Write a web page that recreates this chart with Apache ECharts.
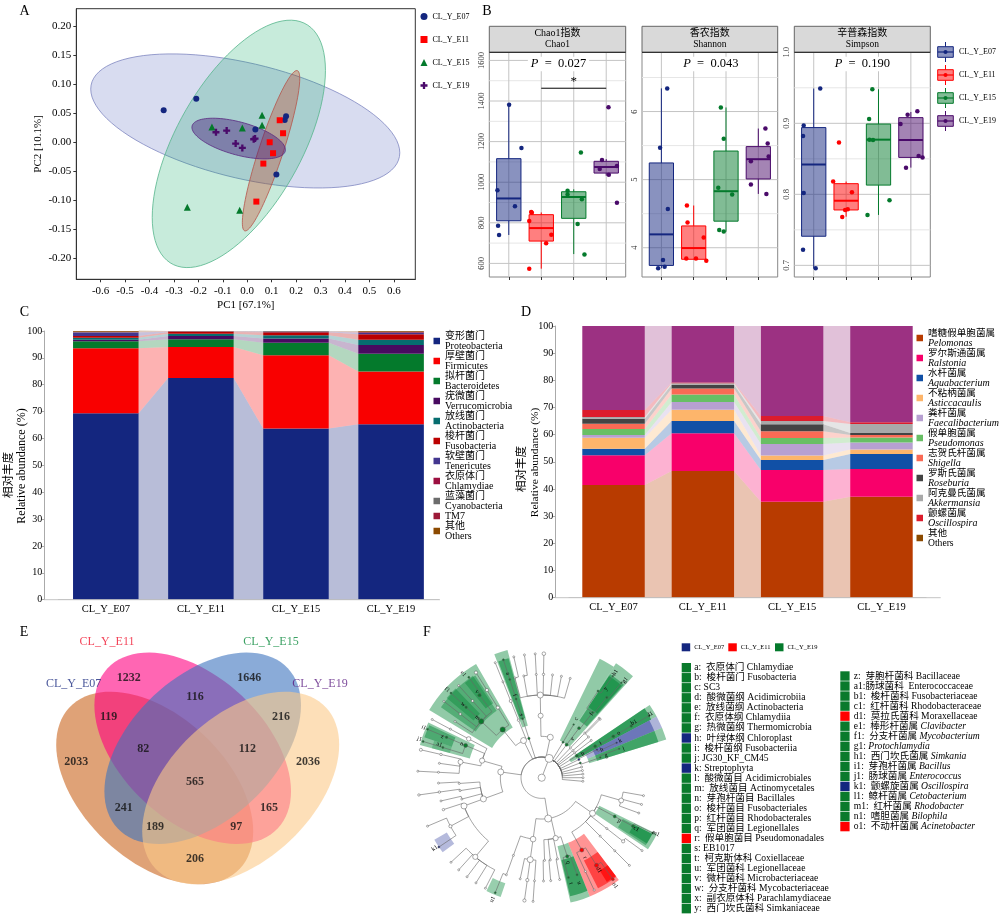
<!DOCTYPE html>
<html><head><meta charset="utf-8">
<style>html,body{margin:0;padding:0;background:#fff}#c{width:1000px;height:920px}</style>
<script src="https://cdn.jsdelivr.net/npm/echarts@6/dist/echarts.min.js"></script></head>
<body><div id="c"></div>
<script>
const F='"Liberation Serif","Noto Sans CJK SC",serif';
const groups=['CL_Y_E07','CL_Y_E11','CL_Y_E15','CL_Y_E19'];
const groupColors=['#14267f','#ff0000','#047a2c','#4a0a6a'];

// ---- A: PCoA
const pcoaE07=[[-0.342,0.0556],[-0.2085,0.0752],[0.0333,0.0222],[0.159,0.0452],[0.1536,0.0389],[0.1194,-0.0555]];
const pcoaE11=[[0.133,0.0383],[0.1467,0.0159],[0.092,0.0003],[0.1057,-0.0186],[0.066,-0.0365],[0.0374,-0.1021]];
const pcoaE15=[[0.0607,0.047],[0.0607,0.0297],[-0.02,0.0251],[-0.1443,0.0268],[-0.2453,-0.1119],[-0.0309,-0.1171]];
const pcoaE19=[[-0.1279,0.0176],[-0.0841,0.0205],[-0.0473,-0.002],[-0.02,-0.0094],[0.0265,0.0055],[0.032,0.0067]];
// centre x, centre y, half-width, half-height, correlation
const pcoaEllipses=[[-0.008,0.0371,0.6325,0.1157,-0.475],[-0.0343,-0.0025,0.3545,0.2135,0.594],[0.0975,-0.0143,0.1175,0.1384,0.897],[-0.035,0.0067,0.1913,0.0351,-0.55]];
const pcoaFill=['rgba(40,60,170,.18)','rgba(0,165,90,.22)','rgba(200,60,30,.32)','rgba(70,20,120,.42)'];
const pcoaLine=['#7f86c0','#55b58c','#b5544a','#5a2a80'];
const pcoaXTicks=[-0.6,-0.5,-0.4,-0.3,-0.2,-0.1,0,0.1,0.2,0.3,0.4,0.5,0.6];
const pcoaYTicks=[-0.2,-0.15,-0.1,-0.05,0,0.05,0.1,0.15,0.2];

// ---- B: alpha diversity  [min,q1,median,q3,max]
const chaoBoxes=[[740,810,920,1116,1382],[574,710,774,840,851],[646,822,927,953,965],[1032,1045,1075,1103,1114]];
const shannonBoxes=[[3.70,3.74,4.196,5.245,6.34],[3.83,3.83,3.995,4.32,4.62],[4.235,4.39,4.83,5.42,6.06],[4.79,5.01,5.30,5.485,5.75]];
const simpsonBoxes=[[0.696,0.741,0.842,0.894,0.949],[0.7685,0.778,0.791,0.815,0.818],[0.771,0.813,0.877,0.899,0.948],[0.8376,0.852,0.8765,0.908,0.916]];
const chaoPoints=[[[1.01,1382],[1.39,1169],[0.65,960],[1.19,881],[0.67,786],[0.70,740]],[[1.69,853],[1.71,850],[1.63,809],[2.31,741],[2.15,699],[1.63,574]],[[3.22,1146],[2.81,958],[2.81,940],[3.25,916],[3.12,794],[3.33,644]],[[4.07,1369],[3.87,1109],[3.80,1065],[4.33,1080],[4.08,1037],[4.33,899]]];
const shannonPoints=[[[1.18,6.34],[0.96,5.47],[1.20,4.57],[1.05,3.82],[1.10,3.72],[0.90,3.70]],[[1.79,4.62],[1.81,4.37],[2.31,4.15],[1.77,3.84],[2.07,3.84],[2.39,3.81]],[[2.84,6.06],[2.93,5.60],[2.76,4.88],[3.19,4.78],[2.79,4.26],[2.93,4.24]],[[4.22,5.75],[4.29,5.53],[4.32,5.34],[3.77,5.27],[3.77,4.93],[4.25,4.79]]];
const simpsonPoints=[[[1.20,0.949],[0.69,0.897],[0.67,0.882],[0.69,0.802],[0.67,0.722],[1.06,0.696]],[[1.78,0.873],[1.60,0.818],[2.18,0.803],[2.05,0.779],[1.97,0.778],[1.88,0.768]],[[2.81,0.948],[2.71,0.906],[2.72,0.877],[2.83,0.8765],[3.34,0.7915],[2.66,0.771]],[[4.20,0.917],[3.90,0.912],[3.68,0.899],[4.24,0.854],[4.36,0.852],[3.85,0.8376]]];
const chaoTicks=[600,800,1000,1200,1400,1600], chaoMinor=[700,900,1100,1300,1500];
const shannonTicks=[4,5,6], shannonMinor=[4.5,5.5,6.5];
const simpsonTicks=[0.7,0.8,0.9,1.0], simpsonMinor=[0.75,0.85,0.95];
const facetTitles=[['Chao1指数','Chao1'],['香农指数','Shannon'],['辛普森指数','Simpson']];
const facetP=['0.027','0.043','0.190'];

// ---- C: phylum
const phylumNames=['变形菌门\nProteobacteria','厚壁菌门\nFirmicutes','拟杆菌门\nBacteroidetes','疣微菌门\nVerrucomicrobia','放线菌门\nActinobacteria','梭杆菌门\nFusobacteria','软壁菌门\nTenericutes','衣原体门\nChlamydiae','蓝藻菌门\nCyanobacteria','TM7','其他\nOthers'];
const phylumColors=['#14267f','#f90000','#047a2c','#480a60','#066d6f','#bb0000','#43368f','#9c0f40','#6c6c6c','#9c1a38','#8c4a00'];
const phylumE07=[69.4,24.2,2.6,0.5,0.8,0.6,1.3,0.1,0.1,0.1,0.5];
const phylumE11=[82.5,11.5,2.9,1.2,0.9,0.6,0.1,0.1,0.05,0.05,0.1];
const phylumE15=[63.7,27.3,4.6,1.6,1.2,1.1,0.3,0.05,0.05,0,0.1];
const phylumE19=[65.3,19.6,6.6,3.3,1.9,2.1,0.5,0.2,0.1,0.1,0.3];

// ---- D: genus
const genusNames=['嗜糖假单胞菌属\nPelomonas','罗尔斯通菌属\nRalstonia','水杆菌属\nAquabacterium','不粘柄菌属\nAsticcacaulis','粪杆菌属\nFaecalibacterium','假单胞菌属\nPseudomonas','志贺氏杆菌属\nShigella','罗斯氏菌属\nRoseburia','阿克曼氏菌属\nAkkermansia','颤螺菌属\nOscillospira','其他\nOthers'];
const genusColors=['#b83b00','#f8006a','#1150a6','#fdb56b','#b7a0d1','#68bf65','#fa6a55','#444444','#a9a9a9','#dc1c2c','#9c3182'];
const genusE07=[41.5,10.9,2.4,4.1,1.0,2.2,1.9,1.9,0.6,2.6,30.9];
const genusE11=[46.6,13.9,4.5,4.2,2.8,2.8,2.2,1.4,0.5,0.3,20.8];
const genusE15=[35.3,11.7,3.7,1.6,4.3,2.2,2.5,2.5,1.2,1.9,33.1];
const genusE19=[37.2,10.2,5.5,1.6,2.6,1.9,0.9,0.7,3.3,0.7,35.4];

// ---- E: Venn
const vennEllipses=[[154.7,168,98.5,96.3,0.45],[192.7,128.3,98.3,95.7,0.45],[202.7,128.3,98.3,95.7,-0.45],[240.7,168,98.5,96.3,-0.45]];
const vennFill=['rgba(201,100,28,.6)','rgba(255,0,128,.6)','rgba(60,115,190,.6)','rgba(252,202,137,.6)'];
const vennCounts=[1232,1646,116,119,216,82,112,2033,2036,565,241,165,189,97,206];
const vennCountX=[128.7,249.3,195,108.7,281,143.3,247.3,76.3,308,195,123.7,269,155,236.3,195];
const vennCountY=[57.7,57.7,77.3,97,97,129.3,129.3,142.3,142.3,161.7,187.7,187.7,207.3,207.3,239.3];
const vennLabelX=[73.7,107,271,320], vennLabelY=[64.3,21.7,21.7,64.3];
const vennLabelColors=['#1a2a80','#f0142e','#0a8a3c','#5a1a80'];

// ---- F: cladogram, depth-first rows: level, angle, size, colour
const cladoRows=[[1,21,4,'w'],
[2,12,3,'w'],[3,-1,2.5,'w'],[4,-1,3,'w'],[5,-15,1,'w'],[6,-13,1,'w'],[5,-10,1,'w'],[6,-8,1,'w'],[5,-3,1,'w'],[6,-3,1,'w'],[5,1,1.2,'w'],[6,1,1.8,'w'],[5,6,1,'w'],[5,11,1,'w'],[5,16,1,'w'],
[2,-18,1.2,'g'],[3,-18,1,'g'],[4,-18,1,'g'],[5,-18,1,'g'],[6,-18,1,'g'],
[2,-26,3,'w'],[3,-22,1.2,'w'],[4,-22,1.5,'w'],[5,-22,1,'w'],[6,-22,1,'w'],
[3,-39,2.6,'g'],[4,-32,1.6,'w'],[5,-32,1.6,'w'],[6,-32,1.6,'w'],
[4,-47,2.6,'g'],[5,-37,1.6,'g'],[6,-36,1,'g'],[5,-42,1.2,'w'],[6,-42,1,'w'],[5,-47,1.2,'g'],[6,-47,1,'g'],[5,-52,1.2,'w'],[6,-52,1,'w'],[5,-57,1,'w'],
[2,-82,3,'w'],[3,-74,2.6,'w'],[4,-67,2,'g'],[5,-67,1.2,'g'],[6,-67,1,'g'],[5,-73,1,'g'],[6,-73,1,'g'],[4,-62,2.2,'w'],[5,-62,1,'w'],[6,-62,1,'w'],[4,-79,2.5,'w'],[5,-77,1.2,'w'],[6,-77,1.5,'w'],[5,-82,1,'w'],[5,-87,1,'w'],[6,-87,1,'w'],
[3,-110,3,'w'],[4,-94,1,'w'],[5,-93,1,'w'],[4,-99,1,'w'],[5,-98,1.2,'w'],[6,-98,1.2,'w'],[4,-105,1,'w'],[5,-103,1,'w'],[4,-110,3,'w'],[5,-108,1.2,'w'],[5,-118,1.6,'w'],[6,-113,1,'w'],[6,-124,1,'b'],[5,-140,2.6,'w'],[6,-133,1,'w'],[6,-138,1,'w'],[6,-143,1,'w'],[6,-148,1,'w'],[6,-153,1,'w'],
[2,-189,3.5,'w'],[3,-172,2.8,'w'],[4,-172,3,'w'],[5,-168,1,'w'],[5,-172,1.6,'w'],[6,-172,1.6,'w'],[5,-176,1,'w'],[6,-176,1,'w'],[4,-160,1,'w'],[5,-160,1,'w'],[6,-158,1,'g'],
[3,-193,2.6,'w'],[4,-182,1,'w'],[5,-181,1,'w'],[4,-186,1,'w'],[5,-185,1,'w'],[4,-191,1,'w'],[5,-190,1,'w'],[4,-198,1.6,'g'],[5,-195,1,'g'],[5,-200,1,'g'],
[3,-235,3,'w'],[4,-209,2,'r'],[5,-212,2,'r'],[6,-215,1.4,'r'],[5,-205,1,'w'],[6,-205,1,'w'],[4,-225,1,'w'],[5,-225,1,'w'],[6,-225,1,'w'],[4,-232,1,'w'],[5,-232,1.6,'w'],[6,-234,1,'w'],[4,-242,1.4,'g'],[5,-242,1.4,'g'],[6,-243.5,1,'g'],[4,-254,2.4,'w'],[5,-260,1,'w'],[5,-255,1,'w'],[5,-250,1,'w'],
[2,31,1,'g'],[3,31,0.8,'g'],
[2,37,1.5,'g'],[3,37,1.4,'g'],[4,38,1,'g'],[5,39,1,'g'],[6,40,0.8,'g'],[5,33,1,'g'],[6,35,0.8,'g'],
[2,44,1,'w'],[3,44,1,'w'],[4,44,1,'w'],[2,49,1,'w'],[3,49,1,'w'],[4,45,1,'w'],[2,53,1,'w'],[3,53,1,'w'],
[2,58,1.5,'g'],[3,59.5,1.4,'g'],[4,60,1.4,'g'],[5,60,1.2,'g'],[6,60,1,'g'],
[2,64,1,'b'],[3,63,0.8,'b'],[4,65,0.8,'b'],
[2,69,1,'g'],[3,71,0.8,'g'],[4,69.5,0.8,'g'],
[2,75,1,'w'],[2,80,1,'w'],[2,85,1,'w'],[2,90,1,'w'],[2,95,1,'w']];
const cladoColors={w:'#ffffff',g:'#0a7a2c',r:'#ff0000',b:'#14267f'};
// angle from, angle to, inner level, outer level, colour, opacity
const cladoBands=[
 [-59,-30,2.8,6.35,'g',.45],[-55,-34,3.9,5.95,'g',.45],[-50,-44,4.3,6,'g',.45],[-39,-33,4.3,5.9,'g',.45],
 [-21,-15,2.6,6.4,'g',.45],[-20.5,-15.5,3,6,'g',.6],
 [-75,-64,3.6,6.1,'g',.45],[-71,-65,4.6,6,'g',.5],[-75,-71,4.6,5.5,'g',.3],
 [26,33,2,6.4,'g',.45],[33,42,2,6.6,'g',.45],[33.5,41.5,3.3,6,'g',.55],[33.5,41,4.1,5.9,'g',.6],
 [56,62,1.6,6.3,'g',.45],[56,62,2,6,'g',.7],[62,67.5,2.4,6.3,'b',.38],[62,67.5,2.8,5.9,'b',.5],[67.5,73,2.4,6.3,'g',.45],[67.5,73,2.8,5.9,'g',.6],
 [-244,-236,3.1,6.2,'g',.45],[-243,-237,4.4,6,'g',.45],[-243,-238,5,6,'g',.6],
 [-217,-202,3.4,6.2,'r',.42],[-217,-207,4.5,6,'r',.55],[-217,-212,5.3,5.95,'r',.7],
 [-202,-193,3.4,6.2,'g',.45],[-202,-193.5,4.1,5.9,'g',.65],
 [-161,-154,5.4,6.1,'g',.42],[-127,-120,5.3,6,'b',.35]
];
const cladoLabels=['a','f','s','e1','f1','v','w','m','i1','j1','z','a1','n','k1','n1','o1','d1','r','q','t','u','p','c1','m1','c','e','f','y','h1','g1','b','i','o','b1','l1','h','k','g','j'];
const cladoLabelAngle=[-18,-18,-18,-37,-47,-37,-47,-47,-67,-72.4,-67.5,-72,-67,-123.4,-158,-214.3,-211.8,-208.5,-197.4,-195.5,-199.6,-241,-241.5,-244,30.5,38,38,35.6,35,40.5,60,59.5,60,59,59.7,65,64.7,71,70.4];
const cladoLabelLevel=[5.3,4.2,3.2,6.3,6.25,5.2,5.2,4.25,6.2,6.2,5.2,5.2,4.2,6.2,6.35,6.3,5.25,4.4,4.3,5.3,5.4,4.3,5.2,6.15,3.3,2.4,3.9,5.3,6.2,6.2,2.3,3.3,4.3,5.2,6.1,3.2,4.2,3.3,4.2];
const lefseLegend1=[['g','a:  衣原体门 Chlamydiae'],['g','b:  梭杆菌门 Fusobacteria'],['g','c: SC3'],['g','d:  酸微菌纲 Acidimicrobiia'],['g','e:  放线菌纲 Actinobacteria'],['g','f:  衣原体纲 Chlamydiia'],['g','g:  热微菌纲 Thermomicrobia'],['b','h:  叶绿体纲 Chloroplast'],['g','i:  梭杆菌纲 Fusobacteriia'],['g','j: JG30_KF_CM45'],['b','k: Streptophyta'],['g','l:  酸微菌目 Acidimicrobiales'],['g','m:  放线菌目 Actinomycetales'],['g','n:  芽孢杆菌目 Bacillales'],['g','o:  梭杆菌目 Fusobacteriales'],['g','p:  红杆菌目 Rhodobacterales'],['g','q:  军团菌目 Legionellales'],['r','r:  假单胞菌目 Pseudomonadales'],['g','s: EB1017'],['g','t:  柯克斯体科 Coxiellaceae'],['g','u:  军团菌科 Legionellaceae'],['g','v:  微杆菌科 Microbacteriaceae'],['g','w:  分支杆菌科 Mycobacteriaceae'],['g','x:  副衣原体科 Parachlamydiaceae'],['g','y:  西门坎氏菌科 Simkaniaceae']];
const lefseLegend2=[['g','z:  芽胞杆菌科 Bacillaceae'],['g','a1:肠球菌科  Enterococcaceae'],['g','b1:  梭杆菌科 Fusobacteriaceae'],['g','c1:  红杆菌科 Rhodobacteraceae'],['r','d1:  莫拉氏菌科 Moraxellaceae'],['g','e1:  棒形杆菌属 {i|Clavibacter}'],['g','f1:  分支杆菌属 {i|Mycobacterium}'],['g','g1: {i|Protochlamydia}'],['g','h1:  西门坎氏菌属 {i|Simkania}'],['g','i1:  芽孢杆菌属 {i|Bacillus}'],['g','j1:  肠球菌属 {i|Enterococcus}'],['b','k1:  颤螺旋菌属 {i|Oscillospira}'],['g','l1:  鲸杆菌属 {i|Cetobacterium}'],['g','m1:  红杆菌属 {i|Rhodobacter}'],['g','n1:  嗜胆菌属 {i|Bilophila}'],['r','o1:  不动杆菌属 {i|Acinetobacter}']];

// ------------------------------------------------
function ellipsePts(api,e){const p=[],s=Math.sqrt(1-e[4]*e[4]);for(let i=0;i<96;i++){const t=i/96*2*Math.PI;p.push(api.coord([e[0]+e[2]*Math.cos(t),e[1]+e[3]*(e[4]*Math.cos(t)+s*Math.sin(t))]));}return p;}
const axisText={color:'#000',fontFamily:F};
const series=[],xAxis=[],yAxis=[],grid=[];
function addGrid(g,x,y){grid.push(g);xAxis.push(Object.assign({gridIndex:grid.length-1},x));yAxis.push(Object.assign({gridIndex:grid.length-1},y));return grid.length-1;}

// A
const gA=addGrid({left:76.3,top:8.7,width:339,height:270.6,show:true,borderColor:'#333',borderWidth:1,backgroundColor:'transparent'},
 {type:'value',min:-0.6996,max:0.688,splitLine:{show:false},axisLine:{show:true,onZero:false,lineStyle:{color:'#333'}},axisTick:{show:true,length:3,customValues:pcoaXTicks,lineStyle:{color:'#333'}},axisLabel:Object.assign({customValues:pcoaXTicks,fontSize:11,margin:6,hideOverlap:false,formatter:v=>Number(v).toFixed(1)},axisText),name:'PC1 [67.1%]',nameLocation:'middle',nameGap:20,nameTextStyle:{fontFamily:F,fontSize:11,color:'#000'}},
 {type:'value',min:-0.2362,max:0.2308,splitLine:{show:false},axisLine:{show:true,onZero:false,lineStyle:{color:'#333'}},axisTick:{show:true,length:3,customValues:pcoaYTicks,lineStyle:{color:'#333'}},axisLabel:Object.assign({customValues:pcoaYTicks,fontSize:11,margin:5,hideOverlap:false,formatter:v=>Number(v).toFixed(2)},axisText),name:'PC2 [10.1%]',nameLocation:'middle',nameGap:33,nameTextStyle:{fontFamily:F,fontSize:11,color:'#000'}});
series.push({type:'custom',name:'pcoa ellipses',xAxisIndex:gA,yAxisIndex:gA,silent:true,clip:false,encode:{x:0,y:1},data:pcoaEllipses.map((e,i)=>[e[0],e[1],e[2],e[3],e[4],i]),
 renderItem(p,api){const i=api.value(5);return{type:'polygon',shape:{points:ellipsePts(api,pcoaEllipses[i])},style:{fill:pcoaFill[i],stroke:pcoaLine[i],lineWidth:0.8}};}});
const crossPath='path://M-1,-3H1V-1H3V1H1V3H-1V1H-3V-1H-1Z';
[pcoaE07,pcoaE11,pcoaE15,pcoaE19].forEach((d,i)=>series.push({type:'scatter',name:groups[i],xAxisIndex:gA,yAxisIndex:gA,data:d,z:5,symbol:['circle','rect','triangle',crossPath][i],symbolSize:[6,6,7,7][i],itemStyle:{color:groupColors[i],opacity:1}}));

// B
const facets=[[489.3,136.4,533,1640,chaoTicks,chaoMinor,chaoBoxes,chaoPoints,v=>String(v)],[642,135.7,3.57,6.87,shannonTicks,shannonMinor,shannonBoxes,shannonPoints,v=>String(v)],[794.3,136,0.6836,1.0,simpsonTicks,simpsonMinor,simpsonBoxes,simpsonPoints,v=>Number(v).toFixed(1)]];
facets.forEach((f,k)=>{
 const g=addGrid({left:f[0],top:52.3,width:f[1],height:224.7,show:true,borderColor:'#888',borderWidth:1,backgroundColor:'transparent'},
  {type:'value',min:0.4,max:4.6,splitLine:{show:false},axisLine:{show:false,onZero:false},axisLabel:{show:false},axisTick:{show:true,length:3,customValues:[1,2,3,4],lineStyle:{color:'#333'}}},
  {type:'value',min:f[2],max:f[3],splitLine:{show:false},axisLine:{show:false,onZero:false},axisTick:{show:false,customValues:f[4]},axisLabel:Object.assign({customValues:f[4],rotate:90,fontSize:8.5,margin:3,hideOverlap:false,formatter:f[8]},axisText,{color:'#333'})});
 const rows=[...f[4].map(v=>[1,v,1]),...f[5].map(v=>[1,v,0]),[1,f[4][0],2],[2,f[4][0],2],[3,f[4][0],2],[4,f[4][0],2]];
 series.push({type:'custom',name:'facet grid '+k,xAxisIndex:g,yAxisIndex:g,silent:true,encode:{x:0,y:1},data:rows,z:1,
  renderItem(p,api){const c=p.coordSys,pt=api.coord([api.value(0),api.value(1)]),w=api.value(2);
   const sh=w===2?{x1:pt[0],y1:c.y,x2:pt[0],y2:c.y+c.height}:{x1:c.x,y1:pt[1],x2:c.x+c.width,y2:pt[1]};
   return{type:'line',shape:sh,style:{stroke:w===0?'#e6e6e6':'#c4c4c4',lineWidth:w===0?1:1}};}});
 series.push({type:'custom',name:'boxes '+k,xAxisIndex:g,yAxisIndex:g,silent:true,z:2,encode:{x:0,y:[1,2,3,4,5]},data:f[6].map((b,i)=>[i+1,...b,i]),
  renderItem(p,api){const x=api.value(0),col=groupColors[api.value(6)],h=0.375;
   const C=(a,b)=>api.coord([a,b]);
   const lo=C(x,api.value(1)),q1=C(x,api.value(2)),m=api.value(3),q3=C(x,api.value(4)),hi=C(x,api.value(5)),L=C(x-h,m),R=C(x+h,m);
   return{type:'group',children:[
    {type:'line',shape:{x1:hi[0],y1:hi[1],x2:q3[0],y2:q3[1]},style:{stroke:col,lineWidth:1}},
    {type:'line',shape:{x1:lo[0],y1:lo[1],x2:q1[0],y2:q1[1]},style:{stroke:col,lineWidth:1}},
    {type:'rect',shape:{x:L[0],y:q3[1],width:R[0]-L[0],height:q1[1]-q3[1]},style:{fill:col,opacity:0.5}},
    {type:'rect',shape:{x:L[0],y:q3[1],width:R[0]-L[0],height:q1[1]-q3[1]},style:{fill:'none',stroke:col,lineWidth:1}},
    {type:'line',shape:{x1:L[0],y1:L[1],x2:R[0],y2:R[1]},style:{stroke:col,lineWidth:2}}]};}});
 f[7].forEach((d,i)=>series.push({type:'scatter',name:groups[i],xAxisIndex:g,yAxisIndex:g,z:4,data:d,symbol:'circle',symbolSize:4.5,itemStyle:{color:groupColors[i],opacity:1}}));
 if(k===0)series.push({type:'custom',name:'significance',xAxisIndex:g,yAxisIndex:g,silent:true,z:6,encode:{x:[0,1],y:2},data:[[2,4,1463]],
  renderItem(p,api){const a=api.coord([api.value(0),api.value(2)]),b=api.coord([api.value(1),api.value(2)]);
   return{type:'group',children:[{type:'line',shape:{x1:a[0],y1:a[1],x2:b[0],y2:b[1]},style:{stroke:'#000',lineWidth:1}},
    {type:'text',style:{text:'*',x:(a[0]+b[0])/2,y:a[1]-7,fontSize:13,fontFamily:F,fill:'#000',textAlign:'center',textVerticalAlign:'middle'}}]};}});
});

// C, D
function stacked(names,colors,table,left,width,top,height,yLeft,barPct){
 const barW=barPct/100;
 const g=addGrid({left,top,width,height},
  {type:'category',data:groups,axisTick:{show:false},axisLine:{show:true,lineStyle:{color:'#c4c4c4'}},axisLabel:Object.assign({fontSize:10.5,margin:4,interval:0},axisText)},
  {type:'value',min:0,max:100,interval:10,offset:left-yLeft,splitLine:{show:false},axisLine:{show:true,lineStyle:{color:'#aaa'}},axisTick:{show:true,length:3,lineStyle:{color:'#aaa'}},axisLabel:Object.assign({fontSize:10,margin:2},axisText)});
 const cum=table.map(r=>{let s=0;return r.map(v=>(s+=v));});
 const flow=[];names.forEach((n,s)=>{for(let i=0;i<3;i++)flow.push([i,s]);});
 series.push({type:'custom',name:'flows',xAxisIndex:g,yAxisIndex:g,silent:true,z:1,encode:{x:0,y:1},data:flow,
  renderItem(p,api){const i=api.value(0),s=api.value(1),w=api.size([1,0])[0]*barW/2;
   const A=api.coord([i,s?cum[i][s-1]:0]),B=api.coord([i,cum[i][s]]),C=api.coord([i+1,cum[i+1][s]]),D=api.coord([i+1,s?cum[i+1][s-1]:0]);
   return{type:'polygon',shape:{points:[[A[0]+w,A[1]],[B[0]+w,B[1]],[C[0]-w,C[1]],[D[0]-w,D[1]]]},style:{fill:colors[s],opacity:0.3}};}});
 names.forEach((n,s)=>series.push({type:'bar',name:n,stack:'s'+g,xAxisIndex:g,yAxisIndex:g,z:3,barWidth:barPct+'%',data:table.map(r=>r[s]),itemStyle:{color:colors[s]}}));
 return g;
}
stacked(phylumNames,phylumColors,[phylumE07,phylumE11,phylumE15,phylumE19],58.3,380.3,331,268.7,44.3,69);
stacked(genusNames,genusColors,[genusE07,genusE11,genusE15,genusE19],568.9,357.2,326,271.7,555.3,70);

// E
const gE=addGrid({left:0,top:620,width:400,height:300},{type:'value',min:0,max:400,show:false},{type:'value',min:0,max:300,inverse:true,show:false});
series.push({type:'custom',name:'venn',xAxisIndex:gE,yAxisIndex:gE,silent:true,clip:false,encode:{x:0,y:1},data:vennEllipses.map((e,i)=>[e[0],e[1],i]),
 renderItem(p,api){const i=api.value(2);return{type:'polygon',shape:{points:ellipsePts(api,vennEllipses[i])},style:{fill:vennFill[i]}};}});
series.push({type:'scatter',name:'venn counts',xAxisIndex:gE,yAxisIndex:gE,symbolSize:0,z:5,silent:true,data:vennCounts.map((c,i)=>[vennCountX[i],vennCountY[i],c]),
 label:{show:true,position:'inside',formatter:p=>String(p.value[2]),fontFamily:F,fontWeight:'bold',fontSize:12,color:'#111'}});
series.push({type:'scatter',name:'venn labels',xAxisIndex:gE,yAxisIndex:gE,symbolSize:0,z:5,silent:true,data:groups.map((g,i)=>({value:[vennLabelX[i],vennLabelY[i]],label:{color:vennLabelColors[i],formatter:g}})),
 label:{show:true,position:'inside',fontFamily:F,fontSize:12}});

// F
const cladoNodes=[],lastAng={};
cladoRows.forEach(r=>{lastAng[r[0]]=r[1];cladoNodes.push({lev:r[0],ang:r[1],size:r[2],col:r[3],pa:r[0]>1?lastAng[r[0]-1]:null});});
function arcPts(api,r,a0,a1){const n=Math.max(1,Math.ceil(Math.abs(a1-a0)/3)),o=[];for(let i=0;i<=n;i++)o.push(api.coord([r,a0+(a1-a0)*i/n]));return o;}
const polarCfg={center:[541.7,777.7],radius:144.7};
series.push({type:'custom',name:'clade bands',coordinateSystem:'polar',silent:true,z:1,encode:{radius:0,angle:1},data:cladoBands.map((b,i)=>[b[2],b[0],i]),
 renderItem(p,api){const b=cladoBands[api.value(2)];const pts=arcPts(api,b[3],b[0],b[1]).concat(arcPts(api,b[2],b[1],b[0]));
  return{type:'polygon',shape:{points:pts},style:{fill:b[4]==='g'?'#0a8a3c':b[4]==='r'?'#ff0000':'#2a3a9a',opacity:b[5]}};}});
series.push({type:'custom',name:'clade edges',coordinateSystem:'polar',silent:true,z:2,encode:{radius:0,angle:1},data:cladoNodes.map((n,i)=>[n.lev,n.ang,i]),
 renderItem(p,api){const n=cladoNodes[api.value(2)];
  const pts=n.pa===null?[api.coord([0,n.ang]),api.coord([n.lev,n.ang])]:arcPts(api,n.lev-1,n.pa,n.ang).concat([api.coord([n.lev,n.ang])]);
  return{type:'polyline',shape:{points:pts},style:{stroke:'#666',lineWidth:0.6,fill:'none'}};}});
series.push({type:'custom',name:'clade nodes',coordinateSystem:'polar',silent:true,z:3,encode:{radius:0,angle:1},data:cladoNodes.map((n,i)=>[n.lev,n.ang,i]).concat([[0,0,-1]]),
 renderItem(p,api){const i=api.value(2),n=i<0?{size:3.6,col:'w'}:cladoNodes[i],c=api.coord([api.value(0),api.value(1)]);
  return{type:'circle',shape:{cx:c[0],cy:c[1],r:n.size},style:{fill:cladoColors[n.col],stroke:'#555',lineWidth:0.5}};}});
series.push({type:'custom',name:'clade labels',coordinateSystem:'polar',silent:true,z:4,encode:{radius:0,angle:1},data:cladoLabels.map((t,i)=>[cladoLabelLevel[i],cladoLabelAngle[i],i]),
 renderItem(p,api){const i=api.value(2),c=api.coord([api.value(0),api.value(1)]),a=cladoLabelAngle[i];
  let rot=90-a;while(rot>90)rot-=180;while(rot<-90)rot+=180;
  return{type:'text',x:c[0],y:c[1],rotation:rot*Math.PI/180,style:{text:cladoLabels[i],x:0,y:0,fontSize:6,fontFamily:F,fill:'#000',textAlign:'center',textVerticalAlign:'middle'}};}});

// graphics
const G=[];
const T=(text,x,y,size,o,extra)=>G.push(Object.assign({type:'text',x,y,z:100,silent:true,style:Object.assign({text,fontSize:size,fontFamily:F,fill:'#000',textAlign:'center',textVerticalAlign:'middle'},o||{})},extra||{}));
T('A',24.5,11,14);T('B',487,11,14);T('C',24.5,312,14);T('D',526,312,14);T('E',24,632,14);T('F',427,632,14);
const upright={rotation:Math.PI/2};
T('相对丰度',9,475,11.5,null,upright);T('Relative abundance (%)',22,466,12,null,upright);
T('相对丰度',522.3,469,11.5,null,upright);T('Relative abundance (%)',535,462.5,11.4,null,upright);
facets.forEach((f,k)=>{
 G.push({type:'rect',z:90,silent:true,shape:{x:f[0],y:26.3,width:f[1],height:26},style:{fill:'#d9d9d9',stroke:'#666',lineWidth:1}});
 G.push({type:'line',z:91,silent:true,shape:{x1:f[0],y1:52.3,x2:f[0]+f[1],y2:52.3},style:{stroke:'#222',lineWidth:1}});
 T(facetTitles[k][0],f[0]+f[1]/2,33.5,10);T(facetTitles[k][1],f[0]+f[1]/2,44.3,9.5);
 T('{i|P}  =  '+facetP[k],f[0]+f[1]/2+(k===2?0:1),64,12.5,{backgroundColor:'#fff',padding:[1,3],rich:{i:{fontStyle:'italic',fontSize:12.5,fontFamily:F}}});
});
groups.forEach((g,i)=>{
 const y=52+23*i,c=groupColors[i];
 G.push({type:'line',z:90,silent:true,shape:{x1:945.5,y1:y-10,x2:945.5,y2:y+10},style:{stroke:c,lineWidth:1}});
 G.push({type:'rect',z:90,silent:true,shape:{x:937.7,y:y-5.3,width:15.6,height:10.6},style:{fill:'#fff'}});
 G.push({type:'rect',z:91,silent:true,shape:{x:937.7,y:y-5.3,width:15.6,height:10.6},style:{fill:c,opacity:0.5}});
 G.push({type:'rect',z:92,silent:true,shape:{x:937.7,y:y-5.3,width:15.6,height:10.6},style:{fill:'none',stroke:c,lineWidth:1}});
 G.push({type:'line',z:92,silent:true,shape:{x1:937.7,y1:y,x2:953.3,y2:y},style:{stroke:c,lineWidth:1.2}});
 G.push({type:'circle',z:93,silent:true,shape:{cx:945.5,cy:y,r:2},style:{fill:c}});
 T(g,959,y,8,{textAlign:'left'});
});
// bar-panel baselines run a little past the category band
G.push({type:'line',z:5,silent:true,shape:{x1:44.3,y1:599.7,x2:440,y2:599.7},style:{stroke:'#c4c4c4',lineWidth:1}});
G.push({type:'line',z:5,silent:true,shape:{x1:555.3,y1:597.7,x2:940.7,y2:597.7},style:{stroke:'#c4c4c4',lineWidth:1}});
// lefse legend
[[681.7,groupColors[0],groups[0]],[728.3,'#ff0000',groups[1]],[775,'#047a2c',groups[3]]].forEach(r=>{
 G.push({type:'rect',z:50,silent:true,shape:{x:r[0],y:643.3,width:8.5,height:8},style:{fill:r[1]}});
 T(r[2],r[0]+12.5,647.5,6.5,{textAlign:'left'});
});
const lefseCol={g:'#0a7a2c',r:'#ff0000',b:'#14267f'};
function lefse(list,sx,tx,y0){list.forEach((r,i)=>{const y=y0+i*10.04;
 G.push({type:'rect',z:50,silent:true,shape:{x:sx,y:y-4.7,width:9.3,height:9.4},style:{fill:lefseCol[r[0]]}});
 T(r[1],tx,y,9.6,{textAlign:'left',rich:{i:{fontStyle:'italic',fontSize:9.6,fontFamily:F}}});});}
lefse(lefseLegend1,681.7,694.3,667.7);lefse(lefseLegend2,840.3,853.7,676);

const legendBase={selectedMode:false,orient:'vertical',icon:'rect',padding:0};
const option={animation:false,backgroundColor:'#fff',textStyle:{fontFamily:F},grid,xAxis,yAxis,series,graphic:G,
 polar:polarCfg,radiusAxis:{min:0,max:7,show:false},angleAxis:{min:-260,max:100,startAngle:-10,show:false},
 legend:[
  Object.assign({},legendBase,{left:420.5,top:12.5,itemWidth:7,itemHeight:7,itemGap:15,data:groups.map((g,i)=>({name:g,icon:['circle','rect','triangle',crossPath][i]})),textStyle:{fontFamily:F,fontSize:8,color:'#000'}}),
  Object.assign({},legendBase,{left:433.5,top:331,itemWidth:6.5,itemHeight:6.5,itemGap:0,data:phylumNames,textStyle:{fontFamily:F,fontSize:10,lineHeight:10,color:'#000'}}),
  Object.assign({},legendBase,{left:916.5,top:328,itemWidth:6.5,itemHeight:6.5,itemGap:0,data:genusNames,
   formatter:n=>{const p=n.split('\n');return '{a|'+p[0]+'}\n{'+(p[1]==='Others'?'a':'b')+'|'+p[1]+'}';},
   textStyle:{fontFamily:F,fontSize:10,lineHeight:10,color:'#000',rich:{a:{fontFamily:F,fontSize:9.6,lineHeight:10,color:'#000'},b:{fontFamily:F,fontSize:10,lineHeight:10,fontStyle:'italic',color:'#000'}}}})
 ]};
const chart=echarts.init(document.getElementById('c'));
chart.setOption(option);
</script></body></html>
